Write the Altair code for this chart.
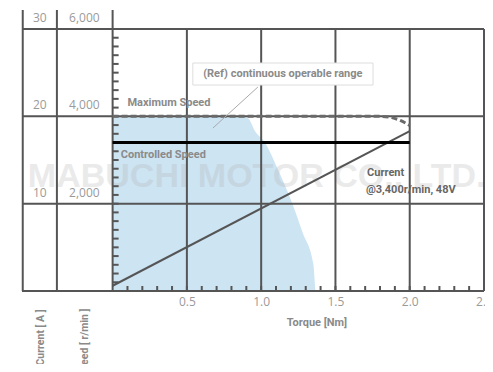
import altair as alt
import pandas as pd

# ---------------- data ----------------
X_DOMAIN = [-0.61, 2.5]
Y_DOMAIN = [0, 6435]

# continuous operable range (torque [Nm], speed [r/min])
area_torque = [0.0, 0.85, 0.91, 0.96, 1.025, 1.105, 1.21, 1.28, 1.35, 1.365]
area_speed = [4000, 4000, 3960, 3650, 3400, 2840, 2000, 1330, 640, 0]

# maximum speed curve
max_torque = [0.0, 1.8, 1.88, 1.94, 2.0]
max_speed = [4000, 4000, 3970, 3900, 3790]

# controlled speed
ctrl_torque = [0.0, 2.0]
ctrl_speed = [3400, 3400]

# current @3,400 r/min, 48V (A)
cur_torque = [0.0, 2.0]
cur_amp = [0.6, 18.3]
AMP_TO_SPEED = 200  # 30 A <-> 6,000 r/min

speed_grid = [0, 2000, 4000, 6000]
torque_grid = [0.5, 1.0, 1.5, 2.0, 2.5]
current_labels = ["", "10", "20", "30"]
speed_labels = ["", "2,000", "4,000", "6,000"]
column_lines = [-0.605, -0.375, 0.0]

minor_torque = [round(i * 0.1, 1) for i in range(1, 25)]
minor_speed = [i * 200 for i in range(1, 30)]

GRID = "#555555"
FONT = "Roboto"
xs = alt.Scale(domain=X_DOMAIN, nice=False, zero=False)
ys = alt.Scale(domain=Y_DOMAIN, nice=False, zero=False)
XAXIS = alt.Axis(
    values=torque_grid, format=".1f", domain=False, ticks=False, grid=False,
    labelColor="#9a9a9a", labelFont="Open Sans", labelFontSize=12, labelPadding=5,
    labelFlush=False, title=None)


def X(f, **kw):
    return alt.X(f, type="quantitative", scale=xs, axis=XAXIS, **kw)


def Y(f, **kw):
    return alt.Y(f, type="quantitative", scale=ys, axis=None, **kw)


def XD(v):
    return alt.datum(v, type="quantitative", scale=xs, axis=XAXIS)


def YD(v):
    return alt.datum(v, type="quantitative", scale=ys, axis=None)


# ---------------- layers ----------------
area = alt.Chart(pd.DataFrame({"t": area_torque, "s": area_speed})).mark_area(
    color="#cde4f3", interpolate="monotone"
).encode(x=X("t"), y=Y("s"))

watermark = alt.Chart(pd.DataFrame({"x": [0.97], "y": [2620], "txt": ["MABUCHI MOTOR CO., LTD."]})).mark_text(
    font="Liberation Sans", fontWeight="bold", fontSize=34, color="#b0b0b0", opacity=0.25,
    baseline="middle", align="center"
).encode(x=X("x"), y=Y("y"), text="txt:N")

hgrid = alt.Chart(pd.DataFrame({"y": speed_grid})).mark_rule(color=GRID, strokeWidth=2).encode(
    x=XD(X_DOMAIN[0]), x2=alt.datum(X_DOMAIN[1]), y=Y("y"),
)

vgrid = alt.Chart(pd.DataFrame({"x": torque_grid})).mark_rule(color=GRID, strokeWidth=2).encode(
    x=X("x"), y=YD(0), y2=alt.datum(6000),
)

cols = alt.Chart(pd.DataFrame({"x": column_lines})).mark_rule(color=GRID, strokeWidth=2).encode(
    x=X("x"), y=YD(0), y2=alt.datum(Y_DOMAIN[1]),
)

tick_len_y = 5 / 281 * Y_DOMAIN[1]
tick_len_x = 6 / 462 * (X_DOMAIN[1] - X_DOMAIN[0])

xticks = alt.Chart(pd.DataFrame({"x": minor_torque})).mark_rule(color=GRID, strokeWidth=2).encode(
    x=X("x"), y=YD(0), y2=alt.datum(tick_len_y),
)

yticks = alt.Chart(pd.DataFrame({"y": minor_speed})).mark_rule(color=GRID, strokeWidth=2).encode(
    x=XD(0), x2=alt.datum(tick_len_x), y=Y("y"),
)

ylab_df = pd.DataFrame({"y": speed_grid, "cur": current_labels, "spd": speed_labels})
cur_lab = alt.Chart(ylab_df).mark_text(
    font="Open Sans", fontSize=12, color="#9a9a9a", baseline="middle", dy=-11
).encode(x=XD(-0.49), y=Y("y"), text="cur:N")
spd_lab = alt.Chart(ylab_df).mark_text(
    font="Open Sans", fontSize=12, color="#9a9a9a", baseline="middle", dy=-11
).encode(x=XD(-0.19), y=Y("y"), text="spd:N")

max_line = alt.Chart(pd.DataFrame({"t": max_torque, "s": max_speed})).mark_line(
    color="#6a6a6a", strokeWidth=3, strokeDash=[6, 3], interpolate="monotone"
).encode(x=X("t"), y=Y("s"))

ctrl_line = alt.Chart(pd.DataFrame({"t": ctrl_torque, "s": ctrl_speed})).mark_line(
    color="#000000", strokeWidth=3
).encode(x=X("t"), y=Y("s"))

cur_line = alt.Chart(pd.DataFrame({"t": cur_torque, "a": cur_amp})).transform_calculate(
    s=f"datum.a * {AMP_TO_SPEED}"
).mark_line(color="#555555", strokeWidth=2).encode(x=X("t"), y=Y("s"))

# legend box for the continuous operable range
box = alt.Chart(pd.DataFrame({"x": [0.54], "x2": [1.753], "y": [4717], "y2": [5221]})).mark_rect(
    fill="white", stroke="#dddddd", strokeWidth=1
).encode(x=X("x"), x2="x2:Q", y=Y("y"), y2="y2:Q")

leader = alt.Chart(pd.DataFrame({"x": [0.675], "x2": [0.978], "y": [3732], "y2": [4671]})).mark_rule(
    color="#aaaaaa", strokeWidth=1
).encode(x=X("x"), x2="x2:Q", y=Y("y"), y2="y2:Q")

ann = pd.DataFrame({
    "x": [1.146, 0.10, 0.055, 1.713, 1.705],
    "y": [4970, 4305, 3114, 2702, 2313],
    "txt": ["(Ref) continuous operable range", "Maximum Speed", "Controlled Speed",
            "Current", "@3,400r/min, 48V"],
})
ann_center = alt.Chart(ann.iloc[[0]]).mark_text(
    font=FONT, fontWeight="bold", fontSize=11, color="#8a8a8a",
    align="center", baseline="middle"
).encode(x=X("x"), y=Y("y"), text="txt:N")
ann_gray = alt.Chart(ann.iloc[[1, 2]]).mark_text(
    font=FONT, fontWeight="bold", fontSize=11, color="#8a8a8a",
    align="left", baseline="middle"
).encode(x=X("x"), y=Y("y"), text="txt:N")
ann_dark = alt.Chart(ann.iloc[[3, 4]]).mark_text(
    font=FONT, fontWeight="bold", fontSize=11, color="#666666",
    align="left", baseline="middle"
).encode(x=X("x"), y=Y("y"), text="txt:N")

titles = pd.DataFrame({
    "x": [1.375, -0.483, -0.187],
    "y": [-733, -420, -400],
    "txt": ["Torque [Nm]", "Current [ A ]", "Speed [ r/min ]"],
})
xtitle = alt.Chart(titles.iloc[[0]]).mark_text(
    font=FONT, fontWeight="bold", fontSize=11, color="#8a8a8a",
    align="center", baseline="middle"
).encode(x=X("x"), y=Y("y"), text="txt:N")
ytitles = alt.Chart(titles.iloc[[1, 2]]).mark_text(
    font=FONT, fontWeight="bold", fontSize=10.5, color="#8a8a8a",
    align="right", baseline="middle", angle=270
).encode(x=X("x"), y=Y("y"), text="txt:N")

chart = alt.layer(
    area, watermark, hgrid, vgrid, cols, xticks, yticks, cur_lab, spd_lab,
    cur_line, ctrl_line, max_line, leader, box, ann_center, ann_gray, ann_dark,
    xtitle, ytitles,
).properties(
    width=462, height=281,
    autosize=alt.AutoSizeParams(type="none"),
    padding={"left": 14, "top": 2, "right": 1, "bottom": 73},
).configure_view(stroke=None)

chart.save("out.html", embed_options={"renderer": "svg", "actions": False})
